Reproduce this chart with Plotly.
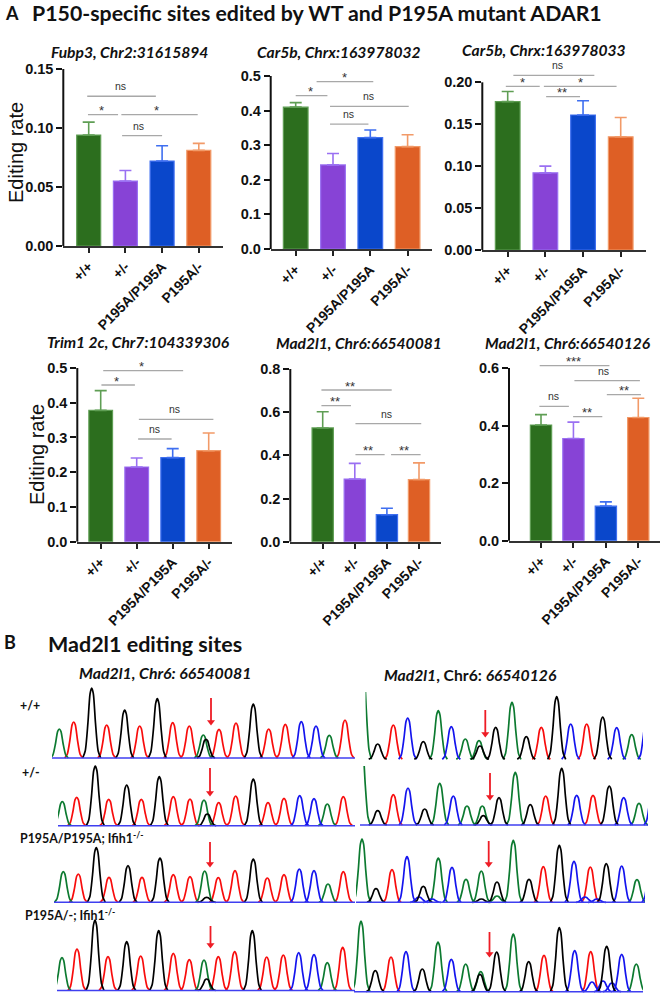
import plotly.graph_objects as go

W, H = 665, 996
GENOTYPES = ["+/+", "+/-", "P195A/P195A", "P195A/-"]
FILL = ["#2c6e1e", "#8743d6", "#0a47cb", "#de5f25"]
EDGE = ["#5f9e54", "#9a70f2", "#3f6ff0", "#f29a68"]

# ---- bar values
FUBP3 = [0.094, 0.055, 0.072, 0.081]
FUBP3_TOP = [0.105, 0.064, 0.085, 0.087]
CAR5B_32 = [0.41, 0.243, 0.322, 0.296]
CAR5B_32_TOP = [0.423, 0.276, 0.344, 0.33]
CAR5B_33 = [0.177, 0.092, 0.161, 0.135]
CAR5B_33_TOP = [0.189, 0.1, 0.178, 0.158]
TRIM1 = [0.378, 0.215, 0.242, 0.262]
TRIM1_TOP = [0.435, 0.241, 0.268, 0.313]
MAD_81 = [0.527, 0.29, 0.125, 0.288]
MAD_81_TOP = [0.602, 0.363, 0.155, 0.365]
MAD_126 = [0.402, 0.355, 0.12, 0.428]
MAD_126_TOP = [0.438, 0.412, 0.135, 0.495]

# ---- significance brackets: start group, end group, level, label, label group
SIG_FUBP3 = [(-.04, 1.83, .1269, "ns", .87), (-.02, .80, .1113, "*", .34), (.89, 2.97, .1113, "*", 1.84), (.91, 2.0, .0935, "ns", 1.36)]
SIG_C32 = [(0, .85, .443, "*", .41), (.56, 2.08, .4835, "*", 1.32), (.92, 3.03, .412, "ns", 1.94), (.92, 1.95, .361, "ns", 1.41)]
SIG_C33 = [(.15, 2.3, .2083, "ns", 1.33), (-.05, .85, .1952, "*", .40), (.96, 2.89, .1952, "*", 1.94), (1.02, 1.92, .1829, "**", 1.43)]
SIG_TRIM = [(.07, 2.29, .4922, "*", 1.14), (.02, .95, .451, "*", .43), (1.06, 3.13, .3523, "ns", 2.06), (1.04, 1.97, .2956, "ns", 1.5)]
SIG_M81 = [(-.04, 2.15, .7027, "**", .85), (-.04, .88, .63, "**", .38), (1.02, 3.07, .5467, "ns", 1.99), (1.02, 1.93, .403, "**", 1.42), (2.13, 3.05, .403, "**", 2.53)]
SIG_M126 = [(-.04, 2.11, .608, "***", .99), (1.03, 3.05, .556, "ns", 1.92), (2.03, 3.08, .5073, "**", 2.56), (-.05, .86, .467, "ns", .39), (.99, 1.89, .431, "**", 1.42)]

# title, values, tops, sig, axis top, tick values, tick format, left, right, zero px, top px, first centre, spacing, bar px, title x, title y
PANELS = [
    ("Fubp3, Chr2:31615894", FUBP3, FUBP3_TOP, SIG_FUBP3, .15, [0, .05, .10, .15], ".2f", 63.3, 222.7, 246, 69, 88.7, 36.7, 24, 129, 52),
    ("Car5b, Chrx:163978032", CAR5B_32, CAR5B_32_TOP, SIG_C32, .5, [0, .1, .2, .3, .4, .5], ".1f", 270.7, 431.7, 249, 76, 295.7, 37.3, 24.7, 339, 52),
    ("Car5b, Chrx:163978033", CAR5B_33, CAR5B_33_TOP, SIG_C33, .2, [0, .05, .10, .15, .20], ".2f", 482.3, 645.7, 250, 82.3, 507.7, 37.67, 24.7, 544, 50),
    ("Trim1 2c, Chr7:104339306", TRIM1, TRIM1_TOP, SIG_TRIM, .5, [0, .1, .2, .3, .4, .5], ".1f", 77.3, 232.3, 541.7, 368, 100.7, 36, 23.7, 138, 342),
    ("Mad2l1, Chr6:66540081", MAD_81, MAD_81_TOP, SIG_M81, .8, [0, .2, .4, .6, .8], ".1f", 290.3, 440.7, 541.7, 369, 322.7, 32.1, 21.3, 359, 343),
    ("Mad2l1, Chr6:66540126", MAD_126, MAD_126_TOP, SIG_M126, .6, [0, .2, .4, .6], ".1f", 509, 660, 540.7, 368, 541, 32.43, 21.3, 568, 343),
]

# ---- chromatogram peaks: base letter, centre, crest
L1_BASES = list("GRKRKRKRRGKRRKRRBBGR")
L1_X = [59.3, 73.7, 91.7, 106.7, 124.7, 139.7, 157.3, 172.7, 189.3, 203.3, 206, 219, 236, 253.3, 268.7, 285.3, 301.3, 316, 329.3, 345]
L1_Y = [729, 722, 688, 725, 710, 726, 698.7, 722.7, 726, 735, 739.3, 729.3, 723, 704, 729, 724.3, 721.7, 726, 735.3, 720]
L2_BASES = list("GRKRKRKRRGKRRKRRBBGR")
L2_X = [62.3, 76.7, 95.3, 108.7, 126.7, 141.3, 159.3, 173.3, 190, 204, 207.3, 218.7, 235.7, 253.3, 268, 284, 299.7, 314, 327.3, 343.3]
L2_Y = [801.7, 797.3, 766, 799.3, 785, 799.3, 776.7, 796.7, 799, 800, 814, 802.7, 796, 779, 802.7, 798.3, 795.7, 798.7, 804, 796.7]
L3_BASES = list("GRKRKRKRRGKRRKRRBBGR")
L3_X = [63.3, 78.3, 96.3, 109, 128, 142, 160, 173.3, 190, 204.7, 206.7, 218.3, 235, 253.3, 267.3, 284, 299.3, 314, 328, 343.3]
L3_Y = [871.7, 874, 847.7, 877.3, 865.7, 877.3, 858, 874.7, 876.7, 871, 897.3, 877.7, 870.7, 859, 878, 874.7, 869, 870.7, 884, 871.7]
L4_BASES = list("GRKRKRKRRGKRRKRRBBGR")
L4_X = [62, 77, 95, 108, 126.7, 140.7, 158.7, 173.3, 189.3, 204, 206.7, 218.3, 234.7, 252.3, 266.7, 283.3, 298.7, 314, 327.3, 342.7]
L4_Y = [957.7, 949, 920, 956.7, 941.7, 956, 930.7, 953.3, 959.7, 960, 979, 956.7, 951.7, 930.7, 957, 955, 952.7, 954.7, 962.7, 947.3]
R1_BASES = list("GKRBKGBGGKKGKRKBRKBGB")
R1_X = [362.5, 377.7, 393.3, 407.7, 423.3, 438.3, 451.3, 465.3, 479, 480, 495.7, 512, 526.3, 541.3, 556.7, 570.7, 586.7, 602.7, 616.7, 631.7, 647]
R1_Y = [660, 744, 725, 718, 741.7, 710.7, 726.7, 739, 740.7, 746, 727.3, 702.3, 736.7, 727.3, 696.7, 724, 724, 717, 727.7, 734.7, 715]
R2_BASES = list("GKRBKGBGGKKGKRKBRKBGB")
R2_X = [361.5, 377.7, 393.3, 408, 424.7, 439.7, 453.3, 467, 482.3, 483.3, 499, 515.3, 530.3, 545.7, 561.7, 576.7, 593, 609.3, 623.7, 639, 653]
R2_Y = [745, 810.7, 794.7, 788, 809, 783.3, 796, 806, 806, 815.7, 797.7, 772.3, 804.7, 796, 768.3, 795.3, 795.3, 786, 797.7, 803.3, 785]
R3_BASES = list("GKRBKGBGGKKGKRKBRKBGBBBGBB")
R3_X = [362, 376, 392, 407, 423.3, 438.3, 452, 466, 481.3, 481.3, 497, 513.3, 529, 543.3, 559.3, 574, 590.3, 606.3, 621.7, 637, 651, 419, 432, 497, 585, 597]
R3_Y = [839, 888.7, 869.7, 856.7, 886.3, 858, 867.3, 879.3, 871, 899, 882, 840.3, 879.3, 866.7, 845.3, 861.3, 867, 863.7, 866, 879.7, 860, 897, 899, 896, 897, 899]
R4_BASES = list("GKRBKGBGGKKGKRKBRKBGBBB")
R4_X = [361, 375.3, 391, 406, 422.3, 438, 451.3, 465.7, 480.7, 480, 496.7, 513.3, 528.7, 544, 559.3, 574.7, 590.7, 606.7, 621.7, 636.3, 592, 603, 612]
R4_Y = [921, 970.7, 957, 951.7, 969, 942, 959.3, 964, 971.7, 974.3, 952, 934, 961.7, 955.3, 927.7, 950.7, 951.7, 946.3, 954.3, 964, 982, 981, 983]

# bases, x, crest, baseline level, x window, y window, arrow x, arrow start, arrow end, draw baseline
TRACES = [
    (L1_BASES, L1_X, L1_Y, 758, (52, 355), (684, 761), 211, 698, 725, True),
    (L2_BASES, L2_X, L2_Y, 825.7, (58, 355), (762, 828), 210, 768, 796, True),
    (L3_BASES, L3_X, L3_Y, 902.3, (54, 355), (843, 905), 210, 842, 867, True),
    (L4_BASES, L4_X, L4_Y, 990.5, (57, 355), (916, 993), 210.5, 926, 948, True),
    (R1_BASES, R1_X, R1_Y, 759.3, (365.5, 643), (692, 761), 485.3, 710, 737, False),
    (R2_BASES, R2_X, R2_Y, 825, (360, 648), (766, 828), 490, 773, 800, True),
    (R3_BASES, R3_X, R3_Y, 902.3, (356, 645), (835, 905), 488.7, 841, 867, True),
    (R4_BASES, R4_X, R4_Y, 991.7, (354, 643), (917, 994), 489.5, 932, 957, True),
]
BASE_COLOR = {"G": "#0c7a30", "R": "#f80c0c", "K": "#000000", "B": "#1414ee"}
PROFILE_X = [-1, -.72, -.42, -.18, 0, .18, .42, .72, 1]
PROFILE_Y = [0, .1, .5, .92, 1, .92, .5, .1, 0]
HALF_WIDTH = 9

fig = go.Figure()
# plotly keeps 8 px under this many-axis layout, so the page is 8 px taller and its overflow is hidden
layout = dict(width=W, height=H + 8, margin=dict(l=0, r=0, t=0, b=0, pad=0), autosize=False,
              paper_bgcolor="white", plot_bgcolor="rgba(0,0,0,0)", showlegend=False, barmode="overlay")
ann, shapes = [], []
PAGE_X, PAGE_Y = "x15", "y15"


def axis_ids(n):
    return ("x", "y") if n == 1 else (f"x{n}", f"y{n}")


for i, p in enumerate(PANELS):
    title, vals, tops, sig, ytop, yticks, fmt, left, right, y0, ypx, c0, sp, bw, tx, ty = p
    n = i + 1
    xa, ya = axis_ids(n)
    dom_top = ypx - 32
    ymax = ytop * (y0 - dom_top) / (y0 - ypx)
    for j, g in enumerate(GENOTYPES):
        fig.add_trace(go.Bar(x=[j], y=[vals[j]], width=bw / sp, xaxis=xa, yaxis=ya,
                             marker=dict(color=FILL[j], line=dict(color=EDGE[j], width=1.2)),
                             error_y=dict(type="data", symmetric=False, array=[tops[j] - vals[j]], arrayminus=[0],
                                          color=EDGE[j], thickness=1.6, width=6), hoverinfo="skip"))
    bx, by = [], []
    for a, b, lv, lab, lx in sig:
        bx += [a, b, None]
        by += [lv, lv, None]
        ann.append(dict(x=lx, y=lv, xref=xa, yref=ya, text=lab, showarrow=False, xanchor="center", yanchor="middle",
                        yshift=10 if lab == "ns" else 4,
                        font=dict(family="Liberation Sans", size=10.5 if lab == "ns" else 13, color="#333333")))
    fig.add_trace(go.Scatter(x=bx, y=by, xaxis=xa, yaxis=ya, mode="lines",
                             line=dict(color="#a8a8a8", width=1.3), hoverinfo="skip"))
    layout[f"xaxis{n}"] = dict(domain=[left / W, right / W], range=[(left - c0) / sp, (right - c0) / sp], anchor=ya,
                               tickvals=[0, 1, 2, 3], ticktext=GENOTYPES, tickangle=-45, ticks="outside", ticklen=5,
                               tickwidth=1.5, tickcolor="#222", showline=True, linecolor="#333", linewidth=2,
                               showgrid=False, zeroline=False,
                               tickfont=dict(family="Liberation Sans", size=14, color="#111", weight=700))
    layout[f"yaxis{n}"] = dict(domain=[1 - y0 / H, 1 - dom_top / H], range=[0, ymax], anchor=xa,
                               tickvals=yticks, tickformat=fmt, ticks="outside", ticklen=6, tickwidth=1.5,
                               tickcolor="#111", showline=False, showgrid=False, zeroline=False,
                               tickfont=dict(family="Liberation Sans", size=14.5, color="#111", weight=700))
    shapes.append(dict(type="line", xref=f"{xa} domain", yref=f"{ya} domain", x0=0, x1=0, y0=0, y1=ytop / ymax,
                       line=dict(color="#111", width=2)))
    ann.append(dict(x=tx, y=ty, xref=PAGE_X, yref=PAGE_Y, text=title, showarrow=False, xanchor="center", yanchor="middle",
                    font=dict(family="Lato", size=15.6, color="#111", weight=700, style="italic")))

for k, t in enumerate(TRACES):
    bases, xs, ys, base, xw, yw, ax, a0, a1, draw_base = t
    n = 7 + k
    xa, ya = axis_ids(n)
    for letter in "RGBK":
        px, py = [], []
        for b, c, top in zip(bases, xs, ys):
            if b != letter:
                continue
            for fx, fy in zip(PROFILE_X, PROFILE_Y):
                px.append(c + fx * HALF_WIDTH)
                py.append(base - fy * (base - top))
            px.append(None)
            py.append(None)
        fig.add_trace(go.Scatter(x=px, y=py, xaxis=xa, yaxis=ya, mode="lines", hoverinfo="skip",
                                 line=dict(color=BASE_COLOR[letter], width=1.7, shape="spline", smoothing=0.7)))
    if draw_base:
        fig.add_trace(go.Scatter(x=list(xw), y=[base, base], xaxis=xa, yaxis=ya, mode="lines", hoverinfo="skip",
                                 line=dict(color="#3f3ff0", width=1.4)))
    layout[f"xaxis{n}"] = dict(domain=[xw[0] / W, xw[1] / W], range=list(xw), anchor=ya, visible=False)
    layout[f"yaxis{n}"] = dict(domain=[1 - yw[1] / H, 1 - yw[0] / H], range=[yw[1], yw[0]], anchor=xa, visible=False)

# red arrows and all free labels live on a whole-page axis pair
for t in TRACES:
    ax, a0, a1 = t[6], t[7], t[8]
    fig.add_trace(go.Scatter(x=[ax, ax], y=[a0, a1 - 3], xaxis=PAGE_X, yaxis=PAGE_Y, mode="lines", hoverinfo="skip",
                             line=dict(color="#ee1c25", width=1.8)))
    fig.add_trace(go.Scatter(x=[ax], y=[a1 - 3], xaxis=PAGE_X, yaxis=PAGE_Y, mode="markers", hoverinfo="skip",
                             marker=dict(symbol="triangle-down", size=7, color="#ee1c25")))
layout["xaxis15"] = dict(domain=[0, 1], range=[0, W], anchor=PAGE_Y, visible=False)
layout["yaxis15"] = dict(domain=[0, 1], range=[H, 0], anchor=PAGE_X, visible=False)


def label(text, x, y, size, italic=False, anchor="left", family="Lato", color="#111"):
    f = dict(family=family, size=size, color=color, weight=700)
    if italic:
        f["style"] = "italic"
    ann.append(dict(x=x, y=y, xref=PAGE_X, yref=PAGE_Y, text=text, showarrow=False, xanchor=anchor, borderpad=0,
                    borderwidth=0, yanchor="middle", font=f))


label("A", 5, 13, 18)
label("P150-specific sites edited by WT and P195A mutant ADAR1", 32, 13, 21.3)
label("B", 4, 642, 18)
label("Mad2l1 editing sites", 48, 644, 21.5)
label("Mad2l1, Chr6: 66540081", 79, 672, 15.9, italic=True)
label("<i>Mad2l1</i>, Chr6: <i>66540126</i>", 384, 675, 15.7)
label("+/+", 20, 705, 12.4)
label("+/-", 22, 772, 12.4)
label("P195A/P195A; Ifih1<sup>-/-</sup>", 20, 837, 12.4)
label("P195A/-; Ifih1<sup>-/-</sup>", 25, 914, 12.4)

for ty, tx in [(153, 16), (455, 37)]:
    ann.append(dict(x=tx, y=ty, xref=PAGE_X, yref=PAGE_Y, text="Editing rate", textangle=-90, showarrow=False,
                    xanchor="center", yanchor="middle", font=dict(family="Liberation Sans", size=20, color="#111")))

layout["annotations"] = ann
layout["shapes"] = shapes
fig.update_layout(**layout)
fig.write_html("out.html", config={"displayModeBar": False},
               post_script="document.body.style.margin='0';document.body.style.height='996px';document.body.style.overflow='hidden';document.documentElement.style.overflow='hidden';")
